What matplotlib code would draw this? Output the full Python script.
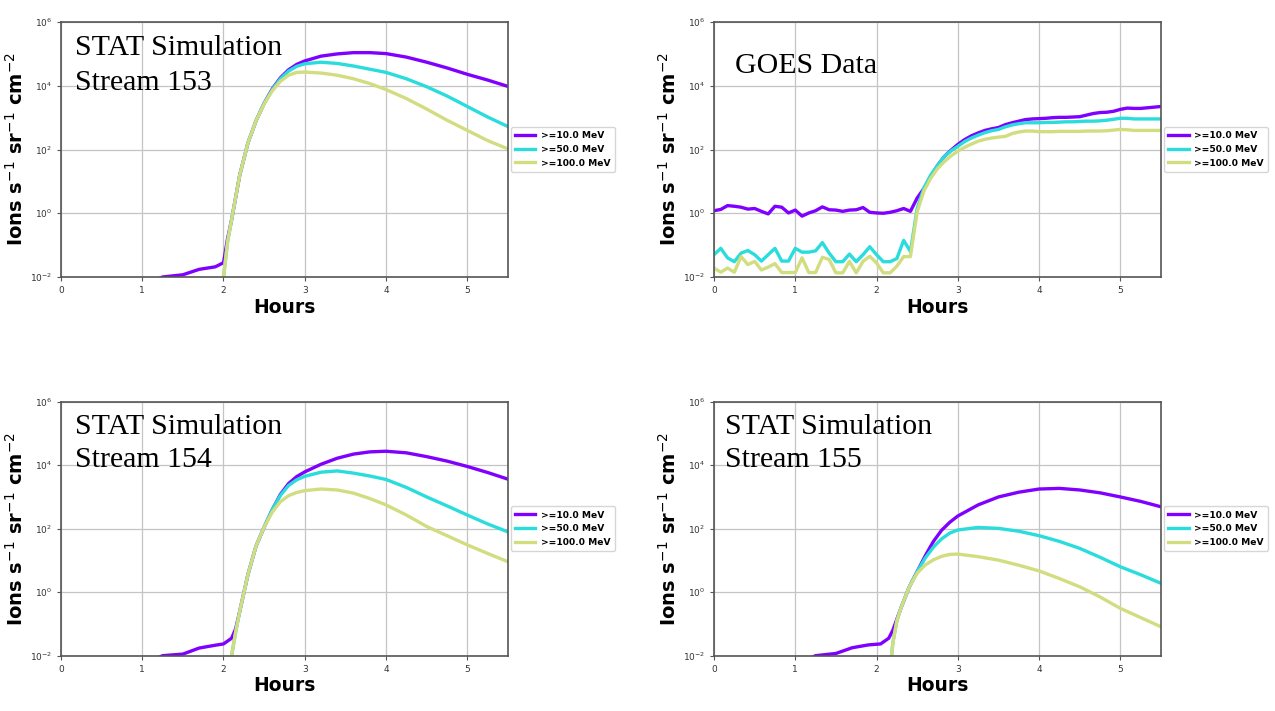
import numpy as np
import matplotlib
matplotlib.use('Agg')
import matplotlib.pyplot as plt

# energy channels and colours
channels = ['>=10.0 MeV', '>=50.0 MeV', '>=100.0 MeV']
colors = ['#8000ff', '#2adcdc', '#d2dd80']

# all series below are log10(flux)

# ---- STAT simulation, stream 153
s153_hours = [1.0, 1.25, 1.5, 1.7, 1.9, 2.0, 2.05, 2.1, 2.2, 2.3, 2.4, 2.5, 2.6, 2.7,
              2.8, 2.9, 3.0, 3.2, 3.4, 3.6, 3.8, 4.0, 4.25, 4.5, 4.75, 5.0, 5.25, 5.5]
s153_10 = [-2.3, -2.0, -1.93, -1.76, -1.68, -1.55, -0.8, -0.2, 1.2, 2.2, 2.9, 3.45, 3.9, 4.25,
           4.5, 4.67, 4.78, 4.93, 5.0, 5.04, 5.04, 5.01, 4.9, 4.74, 4.56, 4.36, 4.18, 3.98]
s153_50 = [-3, -3, -3, -3, -3, -2.0, -0.9, -0.2, 1.2, 2.2, 2.9, 3.45, 3.88, 4.22,
           4.46, 4.61, 4.69, 4.74, 4.7, 4.62, 4.52, 4.42, 4.22, 3.97, 3.68, 3.35, 3.02, 2.72]
s153_100 = [-3, -3, -3, -3, -3, -2.0, -0.9, -0.2, 1.2, 2.2, 2.9, 3.43, 3.84, 4.14,
            4.33, 4.42, 4.43, 4.4, 4.33, 4.22, 4.07, 3.88, 3.6, 3.27, 2.92, 2.6, 2.28, 2.02]

# ---- STAT simulation, stream 154
s154_hours = [1.0, 1.25, 1.5, 1.7, 1.9, 2.0, 2.1, 2.15, 2.2, 2.3, 2.4, 2.5, 2.6, 2.7,
              2.8, 2.9, 3.0, 3.2, 3.4, 3.6, 3.8, 4.0, 4.25, 4.5, 4.75, 5.0, 5.25, 5.5]
s154_10 = [-2.3, -2.0, -1.95, -1.76, -1.67, -1.63, -1.45, -1.15, -0.6, 0.55, 1.45, 2.05, 2.6, 3.08,
           3.42, 3.64, 3.79, 4.03, 4.22, 4.35, 4.42, 4.44, 4.39, 4.27, 4.13, 3.96, 3.77, 3.56]
s154_50 = [-3, -3, -3, -3, -3, -3, -2.0, -1.25, -0.6, 0.55, 1.45, 2.05, 2.6, 3.05,
           3.36, 3.54, 3.65, 3.78, 3.82, 3.75, 3.66, 3.55, 3.3, 3.0, 2.72, 2.43, 2.15, 1.9]
s154_100 = [-3, -3, -3, -3, -3, -3, -2.0, -1.25, -0.6, 0.55, 1.45, 2.05, 2.52, 2.85,
            3.04, 3.14, 3.2, 3.25, 3.22, 3.12, 2.95, 2.75, 2.43, 2.07, 1.78, 1.49, 1.22, 0.96]

# ---- STAT simulation, stream 155
s155_hours = [1.0, 1.25, 1.5, 1.7, 1.9, 2.05, 2.15, 2.2, 2.25, 2.3, 2.4, 2.5, 2.6, 2.7,
              2.8, 2.9, 3.0, 3.25, 3.5, 3.75, 4.0, 4.25, 4.5, 4.75, 5.0, 5.25, 5.5]
s155_10 = [-2.3, -2.0, -1.93, -1.75, -1.66, -1.63, -1.45, -1.2, -0.85, -0.5, 0.15, 0.65, 1.15, 1.6,
           1.95, 2.2, 2.4, 2.75, 3.0, 3.15, 3.25, 3.27, 3.22, 3.13, 3.0, 2.86, 2.69]
s155_50 = [-3, -3, -3, -3, -3, -3, -3, -1.6, -0.9, -0.5, 0.15, 0.65, 1.08, 1.42,
           1.68, 1.86, 1.96, 2.04, 2.01, 1.92, 1.78, 1.6, 1.38, 1.1, 0.8, 0.55, 0.28]
s155_100 = [-3, -3, -3, -3, -3, -3, -3, -1.6, -0.9, -0.5, 0.15, 0.6, 0.86, 1.02,
            1.13, 1.19, 1.2, 1.12, 1.01, 0.85, 0.67, 0.43, 0.17, -0.15, -0.51, -0.8, -1.09]

# ---- GOES data, 5 minute cadence
goes_hours = np.arange(67) * 5 / 60.0
goes_10 = [0.08, 0.12, 0.24, 0.22, 0.19, 0.13, 0.15, 0.06, -0.02, 0.22,
           0.19, 0.01, 0.1, -0.09, 0.01, 0.08, 0.2, 0.11, 0.1, 0.06,
           0.1, 0.11, 0.18, 0.03, 0.01, 0.0, 0.03, 0.08, 0.15, 0.06,
           0.48, 0.78, 1.15, 1.5, 1.78, 1.98, 2.16, 2.31, 2.43, 2.52,
           2.6, 2.65, 2.69, 2.78, 2.84, 2.89, 2.94, 2.96, 2.97, 2.98,
           3.0, 3.01, 3.01, 3.02, 3.03, 3.08, 3.13, 3.16, 3.17, 3.2,
           3.26, 3.3, 3.29, 3.29, 3.31, 3.33, 3.35]
goes_50 = [-1.3, -1.1, -1.4, -1.52, -1.25, -1.17, -1.3, -1.5, -1.3, -1.1,
           -1.5, -1.5, -1.1, -1.22, -1.22, -1.18, -0.92, -1.25, -1.52, -1.52,
           -1.28, -1.52, -1.3, -1.05, -1.3, -1.52, -1.52, -1.42, -0.85, -1.2,
           0.15, 0.8, 1.2, 1.5, 1.78, 1.96, 2.1, 2.25, 2.36, 2.45,
           2.53, 2.59, 2.63, 2.71, 2.77, 2.81, 2.84, 2.84, 2.84, 2.85,
           2.85, 2.86, 2.87, 2.87, 2.88, 2.89, 2.89, 2.9, 2.92, 2.95,
           2.98, 2.98, 2.96, 2.96, 2.96, 2.96, 2.96]
goes_100 = [-1.72, -1.85, -1.72, -1.85, -1.36, -1.61, -1.51, -1.78, -1.69, -1.58,
            -1.86, -1.86, -1.86, -1.4, -1.86, -1.86, -1.38, -1.45, -1.87, -1.87,
            -1.51, -1.87, -1.51, -1.35, -1.56, -1.87, -1.87, -1.66, -1.36, -1.36,
            0.05, 0.7, 1.1, 1.4, 1.62, 1.8, 1.95, 2.07, 2.17, 2.26,
            2.32, 2.36, 2.39, 2.41, 2.5, 2.55, 2.58, 2.58, 2.56, 2.56,
            2.56, 2.57, 2.57, 2.57, 2.57, 2.58, 2.58, 2.58, 2.59, 2.61,
            2.63, 2.62, 2.6, 2.6, 2.6, 2.6, 2.6]


def draw_panel(rect, hours, series, label_lines, label_x, label_y):
	ax = fig.add_axes(rect)
	for vals, name, c in zip(series, channels, colors):
		ax.plot(hours, np.power(10.0, vals), c=c, lw=2.4, label=name)
	ax.set_yscale('log')
	ax.set_xlim(0, 5.5)
	ax.set_ylim(1e-2, 1e6)
	ax.set_yticks([1e-2, 1e0, 1e2, 1e4, 1e6])
	ax.yaxis.set_minor_locator(matplotlib.ticker.NullLocator())
	ax.set_xticks([0, 1, 2, 3, 4, 5])
	ax.grid(True, color='#c4c4c4', lw=0.9)
	ax.tick_params(labelsize=6.5, labelcolor='#333333', color='#555555', length=3)
	for sp in ax.spines.values():
		sp.set_color('#555555')
		sp.set_linewidth(1.2)
	ax.set_xlabel('Hours', fontsize=13.5, fontweight='bold', labelpad=2)
	ax.set_ylabel('Ions s$^{-1}$ sr$^{-1}$ cm$^{-2}$', fontsize=14, fontweight='bold', labelpad=2)
	ax.legend(loc='center left', bbox_to_anchor=(1.0, 0.5), prop={'weight': 'bold', 'size': 6.6},
	          handlelength=2.2, handletextpad=0.6, borderaxespad=0.35, labelspacing=0.5,
	          borderpad=0.45)
	for txt, yy in zip(label_lines, label_y):
		ax.text(label_x, yy, txt, transform=ax.transAxes, fontsize=21.5,
		        family='Liberation Serif', va='baseline', ha='left')
	return ax


fig = plt.figure(figsize=(12.75, 7.11), dpi=100)

draw_panel([0.0478, 0.6104, 0.3506, 0.3586], s153_hours, [s153_10, s153_50, s153_100],
           ['STAT Simulation', 'Stream 153'], 0.032, [0.871, 0.735])
draw_panel([0.56, 0.6104, 0.3506, 0.3586], goes_hours, [goes_10, goes_50, goes_100],
           ['GOES Data'], 0.047, [0.801])
draw_panel([0.0478, 0.0778, 0.3506, 0.3572], s154_hours, [s154_10, s154_50, s154_100],
           ['STAT Simulation', 'Stream 154'], 0.032, [0.873, 0.744])
draw_panel([0.56, 0.0778, 0.3506, 0.3572], s155_hours, [s155_10, s155_50, s155_100],
           ['STAT Simulation', 'Stream 155'], 0.025, [0.873, 0.744])

fig.savefig('out.png', dpi=100)
